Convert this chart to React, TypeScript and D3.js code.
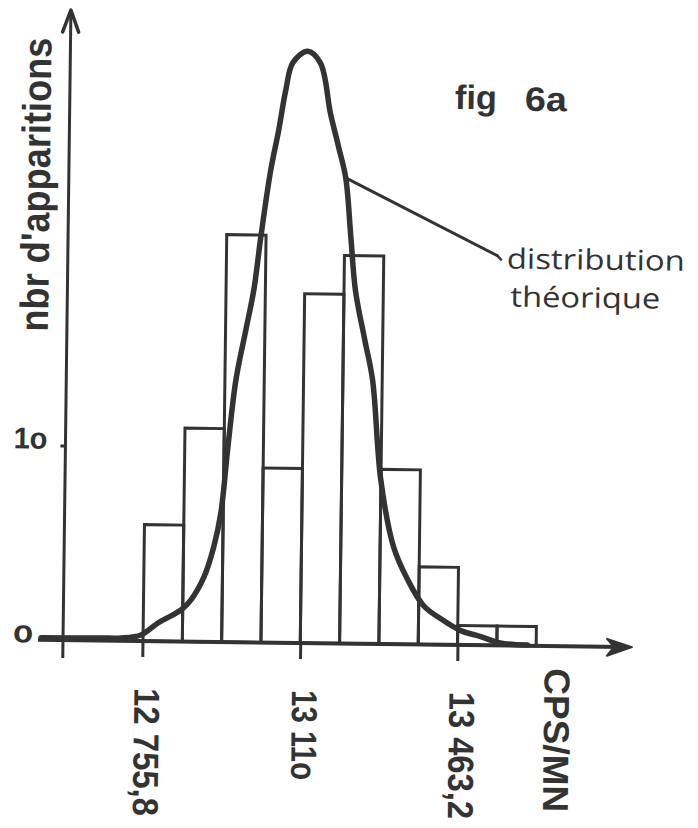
import React from "react";
import * as d3 from "d3";

// ---- data ----
const binEdges = [12755.8, 12844.1, 12932.4, 13020.7, 13109.0, 13197.3, 13285.6, 13373.9, 13462.2, 13550.5, 13638.8];
const counts = [6, 11, 21, 9, 18, 20, 9, 4, 1, 1];

const curveValues = [12527, 12661, 12706, 12751, 12789, 12840, 12862, 12891, 12912, 12927, 12941, 12957, 12978, 12995, 13009, 13029, 13046, 13061, 13076, 13109, 13138, 13162, 13181, 13198, 13211, 13223, 13245, 13264, 13285, 13316, 13348, 13385, 13423, 13469, 13514, 13558, 13619];
const curveCounts = [0.1, 0.13, 0.14, 0.31, 0.94, 1.62, 2.14, 3.34, 4.89, 6.65, 10.06, 13.5, 16.1, 18.2, 20.9, 24.3, 26.4, 28.5, 29.9, 30.5, 29.9, 27.3, 25.6, 24.0, 21.0, 18.2, 15.7, 13.6, 8.5, 5.0, 3.35, 2.0, 1.35, 0.74, 0.45, 0.13, 0.04];

const xTickValues = [12755.8, 13110, 13463.2];
const xTickLabels = ["12 755,8", "13 11o", "13 463,2"];
const xTickLengths = [128, 90, 127];
const yTickValues = [0, 10];
const yTickLabels = ["o", "1o"];
const yTickLengths = [20, 34];

const xTitle = "CPS/MN";
const yTitle = "nbr d'apparitions";
const figTitle = ["fig", "6a"];
const annotation = ["distribution", "théorique"];
const leaderFrom = { v: 13198, c: 24.0 };
const leaderTo = { v: 13540, c: 20.1 };

const INK = "#333333";

export default function App() {
  const x = d3.scaleLinear().domain([12755.8, 13463.2]).range([80, 395]);
  const y = d3.scaleLinear().domain([0, 10]).range([0, -194]);

  const pts: [number, number][] = curveValues.map((v, i) => [v, curveCounts[i]]);
  const line = d3
    .line<[number, number]>()
    .x((d) => x(d[0]))
    .y((d) => y(d[1]))
    .curve(d3.curveCatmullRom.alpha(0.5));

  const xStart = x.invert(-25);
  const xEnd = x.invert(569);
  const yTop = y.invert(-630);
  const tipX = x(xEnd);
  const tipY = y(yTop);

  const sans = "'Liberation Sans', Arial, Helvetica, sans-serif";
  const hand = "'Open Sans', 'Noto Sans', sans-serif";

  return (
    <svg
      width={698}
      height={828}
      viewBox="0 0 698 828"
      style={{ position: "absolute", left: 0, top: 0, display: "block", background: "#ffffff" }}
    >
      <rect x={0} y={0} width={698} height={828} fill="#ffffff" />
      <g transform="translate(63,640) rotate(0.72)">
        {/* bars */}
        {counts.map((c, i) => (
          <rect
            key={"b" + i}
            x={x(binEdges[i])}
            y={y(c)}
            width={x(binEdges[i + 1]) - x(binEdges[i])}
            height={y(0) - y(c)}
            fill="none"
            stroke={INK}
            strokeWidth={3}
          />
        ))}

        {/* theoretical curve */}
        <path d={line(pts) || ""} fill="none" stroke={INK} strokeWidth={5.5} strokeLinejoin="round" strokeLinecap="round" />

        {/* x axis */}
        <line x1={x(xStart)} y1={y(0)} x2={tipX - 10} y2={y(0)} stroke={INK} strokeWidth={4} />
        <path
          d={`M${tipX},${y(0)} L${tipX - 25},${y(0) - 8} L${tipX - 18},${y(0)} L${tipX - 25},${y(0) + 9} Z`}
          fill={INK}
          stroke={INK}
          strokeWidth={2}
          strokeLinejoin="round"
        />
        {/* y axis */}
        <line x1={0} y1={18} x2={0} y2={tipY + 2} stroke={INK} strokeWidth={3} />
        <path
          d={`M-8,${tipY + 22} L0,${tipY} L8,${tipY + 22}`}
          fill="none"
          stroke={INK}
          strokeWidth={3.5}
          strokeLinejoin="round"
          strokeLinecap="round"
        />

        {/* x ticks */}
        {xTickValues.map((v, i) => (
          <g key={"xt" + i}>
            <line x1={x(v)} y1={0} x2={x(v)} y2={16} stroke={INK} strokeWidth={3} />
            <text
              transform={`translate(${x(v) - 8},47) rotate(90)`}
              fontFamily={sans}
              fontWeight="bold"
              fontSize={36}
              fill={INK}
              textLength={xTickLengths[i]}
              lengthAdjust="spacingAndGlyphs"
            >
              {xTickLabels[i]}
            </text>
          </g>
        ))}
        <text
          transform="translate(482,22) rotate(90)"
          fontFamily={sans}
          fontWeight="bold"
          fontSize={36}
          fill={INK}
          textLength={144}
          lengthAdjust="spacingAndGlyphs"
        >
          {xTitle}
        </text>

        {/* y ticks */}
        {yTickValues.map((v, i) => (
          <g key={"yt" + i}>
            {v !== 0 && <line x1={-5} y1={y(v)} x2={0} y2={y(v)} stroke={INK} strokeWidth={3} />}
            <text
              x={v === 0 ? -50 : -52}
              y={y(v) + 3}
              fontFamily={sans}
              fontWeight="bold"
              fontSize={v === 0 ? 32 : 30}
              fill={INK}
              textLength={yTickLengths[i]}
              lengthAdjust="spacingAndGlyphs"
            >
              {yTickLabels[i]}
            </text>
          </g>
        ))}
        <text
          transform="translate(-19,-308) rotate(-90)"
          fontFamily={sans}
          fontWeight="bold"
          fontSize={40}
          fill={INK}
          textLength={294}
          lengthAdjust="spacingAndGlyphs"
        >
          {yTitle}
        </text>

        {/* figure label */}
        <text x={385} y={-536} fontFamily={sans} fontWeight="bold" fontSize={34} fill={INK} textLength={42} lengthAdjust="spacingAndGlyphs">
          {figTitle[0]}
        </text>
        <text x={455} y={-535} fontFamily={sans} fontWeight="bold" fontSize={34} fill={INK} textLength={42} lengthAdjust="spacingAndGlyphs">
          {figTitle[1]}
        </text>

        {/* annotation */}
        <line
          x1={x(leaderFrom.v)}
          y1={y(leaderFrom.c)}
          x2={x(leaderTo.v)}
          y2={y(leaderTo.c)}
          stroke={INK}
          strokeWidth={3}
          strokeLinecap="round"
        />
        <line
          x1={x(leaderTo.v)}
          y1={y(leaderTo.c)}
          x2={x(leaderTo.v) + 4}
          y2={y(leaderTo.c) + 4}
          stroke={INK}
          strokeWidth={2.5}
          strokeLinecap="round"
        />
        <text
          x={439}
          y={-377}
          fontFamily={hand}
          fontWeight={400}
          fontSize={28}
          fill={INK}
          textLength={178}
          lengthAdjust="spacingAndGlyphs"
        >
          {annotation[0]}
        </text>
        <text
          x={443}
          y={-339}
          fontFamily={hand}
          fontWeight={400}
          fontSize={28}
          fill={INK}
          textLength={150}
          lengthAdjust="spacingAndGlyphs"
        >
          {annotation[1]}
        </text>
      </g>
    </svg>
  );
}
